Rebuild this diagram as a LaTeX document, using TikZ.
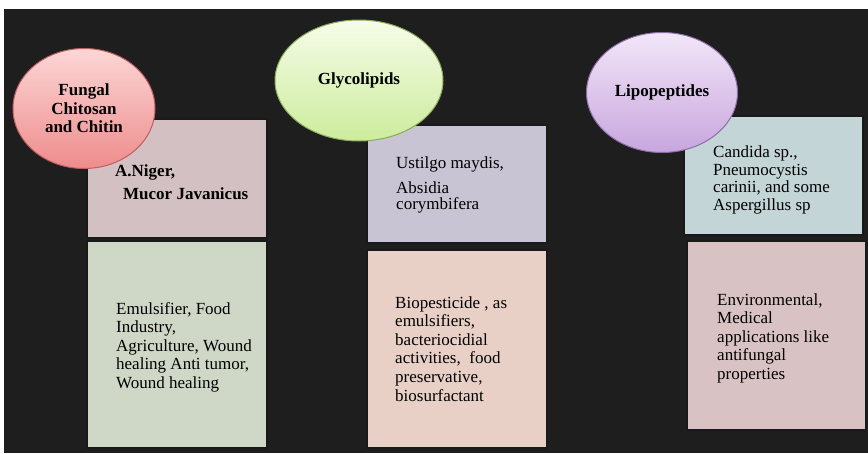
\documentclass[tikz,border=0pt]{standalone}
\usepackage{fontspec}
\setmainfont{Liberation Serif}
\usetikzlibrary{shapes.geometric}

\definecolor{panel}{RGB}{30,30,30}
\definecolor{chitosanTop}{RGB}{252,214,214}
\definecolor{chitosanBot}{RGB}{238,140,140}
\definecolor{chitosanLine}{RGB}{190,95,95}
\definecolor{glycoTop}{RGB}{246,252,232}
\definecolor{glycoBot}{RGB}{204,236,156}
\definecolor{glycoLine}{RGB}{140,170,90}
\definecolor{lipoTop}{RGB}{242,230,248}
\definecolor{lipoBot}{RGB}{200,166,222}
\definecolor{lipoLine}{RGB}{140,110,170}
\definecolor{mauve}{RGB}{211,192,194}
\definecolor{sage}{RGB}{207,216,198}
\definecolor{lilac}{RGB}{201,196,212}
\definecolor{peach}{RGB}{232,208,198}
\definecolor{powder}{RGB}{196,213,216}
\definecolor{rosegrey}{RGB}{217,194,196}

\begin{document}
\begin{tikzpicture}[x=1pt,y=-1pt,
  font=\fontsize{17}{18.6}\selectfont,
  category/.style n args={3}{ellipse, draw=#3, line width=1pt,
    top color=#1, bottom color=#2, inner sep=0pt,
    font=\fontsize{17}{18.5}\selectfont\bfseries, align=center},
  infobox/.style={rectangle, draw=black!90, line width=1.8pt,
    inner sep=0pt},
  infotext/.style={anchor=north west, inner sep=0pt, align=left,
    text=black}
]
% page and dark panel
\fill[white] (0,0) rectangle (868,453);
\fill[panel] (4,9) rectangle (868,453);

% ---------- Fungal chitosan and chitin ----------
\node[infobox, fill=mauve, minimum width=180pt, minimum height=119pt]
  (srcA) at (177,178.5) {};
\node[infobox, fill=sage, minimum width=180pt, minimum height=207pt]
  (useA) at (177,344.5) {};
\node[infotext, font=\fontsize{17}{23}\selectfont\bfseries] (srcAtext) at (115,165)
  {A.Niger,\\\hspace*{8pt}Mucor Javanicus};
\node[infotext] (useAtext) at (116,302)
  {Emulsifier, Food\\Industry,\\Agriculture, Wound\\healing Anti tumor,\\Wound healing};
\node[category={chitosanTop}{chitosanBot}{chitosanLine},
  minimum width=142pt, minimum height=120pt] (catA) at (84,108.5)
  {Fungal\\Chitosan\\and Chitin};

% ---------- Glycolipids ----------
\node[infobox, fill=lilac, minimum width=180pt, minimum height=118pt]
  (srcB) at (457,184) {};
\node[infobox, fill=peach, minimum width=180pt, minimum height=198pt]
  (useB) at (457,349) {};
\node[infotext, font=\fontsize{17}{17}\selectfont] (srcBtext) at (396,156)
  {Ustilgo maydis,\\[8pt]Absidia\\corymbifera};
\node[infotext] (useBtext) at (395,296)
  {Biopesticide , as\\emulsifiers,\\bacteriocidial\\activities,\ \ food\\preservative,\\biosurfactant};
\node[category={glycoTop}{glycoBot}{glycoLine},
  minimum width=168pt, minimum height=121pt] (catB) at (359,80.5)
  {Glycolipids};

% ---------- Lipopeptides ----------
\node[infobox, fill=powder, minimum width=179pt, minimum height=119pt]
  (srcC) at (773.5,175.5) {};
\node[infobox, fill=rosegrey, minimum width=179pt, minimum height=189pt]
  (useC) at (776.5,335.5) {};
\node[infotext, font=\fontsize{17}{17.5}\selectfont] (srcCtext) at (713,146)
  {Candida sp.,\\Pneumocystis\\carinii, and some\\Aspergillus sp};
\node[infotext] (useCtext) at (717,293)
  {Environmental,\\Medical\\applications like\\antifungal\\properties};
\node[category={lipoTop}{lipoBot}{lipoLine},
  minimum width=151pt, minimum height=120pt] (catC) at (662,92.5)
  {Lipopeptides};
\end{tikzpicture}
\end{document}
